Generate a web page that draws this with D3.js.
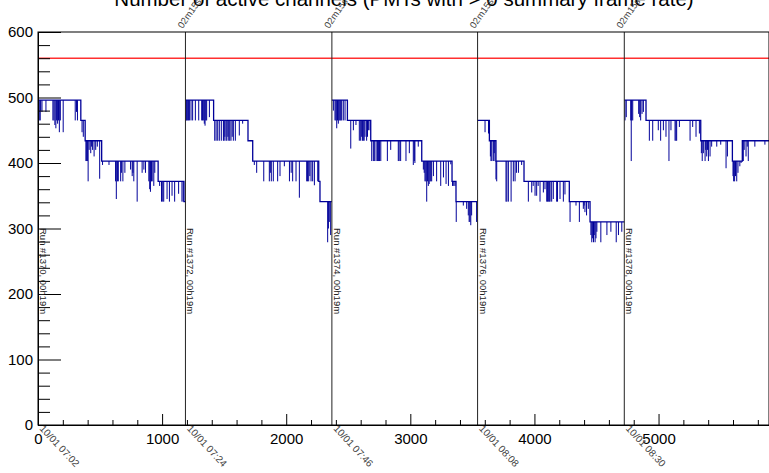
<!DOCTYPE html>
<html>
<head>
<meta charset="utf-8">
<script src="https://cdn.jsdelivr.net/npm/d3@7"></script>
<style>
  body { margin: 0; background: #fff; }
  svg { display: block; font-family: "Liberation Sans", Arial, sans-serif; }
</style>
</head>
<body>
<svg id="mainSvg" width="769" height="473"></svg>
<script>
// run info
let runStarts = [0, 1188, 2368, 3542, 4724];
let runNumbers = [1370, 1372, 1374, 1376, 1378];
let runDurations = ["00h19m", "00h19m", "00h19m", "00h19m", "00h19m"];
let runDates = ["10/01 07:02", "10/01 07:24", "10/01 07:46", "10/01 08:08", "10/01 08:30"];
let gapLabels = ["02m15s", "02m15s", "02m15s", "02m15s"];
let xTicks = [0, 1000, 2000, 3000, 4000, 5000];
let yTicks = [0, 100, 200, 300, 400, 500, 600];
let threshold = 560;

// step levels per run: [x, active channels]
let levels1370 = [[0,496],[345,465],[380,434],[513,403],[968,372],[1176,341],[1188,341]];
let levels1372 = [[1188,496],[1415,465],[1692,434],[1730,403],[2262,372],[2272,341],[2368,341]];
let levels1374 = [[2368,496],[2493,465],[2681,434],[3092,403],[3336,372],[3368,341],[3542,341]];
let levels1376 = [[3542,465],[3637,434],[3690,403],[3916,372],[4281,341],[4448,310],[4724,310]];
let levels1378 = [[4724,496],[4899,465],[5340,434],[5595,403],[5675,434],[5890,434]];

// short drops: [x, lowest value]
let dips1370 = [[10,465],[18,465],[22,480],[32,478],[64,478],[120,465],[128,465],[136,458],[144,453],[150,465],[158,460],[165,465],[172,447],[180,465],[203,447],[300,465],[310,478],[318,465],
  [355,447],[365,440],
  [386,403],[392,403],[398,403],[404,372],[412,420],[425,415],[432,425],[440,420],[452,410],[465,420],[478,425],[497,376],
  [520,397],[572,397],[625,372],[631,345],[640,372],[647,372],[666,372],[672,385],[684,372],[700,385],[746,390],[759,380],[765,385],[772,372],[799,341],[839,385],[853,390],[866,385],[893,372],[900,360],[906,356],[915,372],[920,372],[933,365],[941,385],
  [980,365],[995,341],[1005,341],[1013,341],[1040,345],[1059,341],[1080,350],[1101,341],[1133,353],[1160,341],[1170,341]];
let dips1372 = [[1193,465],[1198,465],[1206,465],[1212,465],[1220,465],[1233,465],[1246,465],[1268,465],[1295,465],[1319,465],[1326,465],[1332,465],[1340,460],[1346,457],[1352,465],[1359,465],[1381,470],
  [1424,434],[1435,434],[1448,434],[1461,434],[1477,434],[1494,434],[1500,434],[1506,440],[1515,434],[1522,434],[1530,440],[1537,434],[1545,434],[1555,434],[1565,440],[1574,434],[1590,434],[1622,442],[1649,460],
  [1743,397],[1762,385],[1819,372],[1864,372],[1872,385],[1880,372],[1896,372],[1931,372],[1950,380],[1985,395],[2026,372],[2040,385],[2052,372],[2079,372],[2106,347],[2165,372],[2172,372],[2181,372],[2190,380],[2200,372],[2213,372],[2227,366],[2254,372],
  [2334,279],[2340,300],[2347,310],[2358,290]];
let dips1374 = [[2380,480],[2393,465],[2400,465],[2407,453],[2413,465],[2420,460],[2427,465],[2434,465],[2440,465],[2447,465],[2460,465],[2474,465],
  [2520,422],[2541,450],[2562,458],[2589,434],[2600,434],[2608,440],[2614,434],[2621,434],[2628,434],[2635,440],[2648,434],[2655,440],[2662,450],[2675,450],
  [2689,403],[2702,403],[2710,403],[2724,403],[2735,403],[2743,403],[2752,403],[2762,403],[2815,403],[2842,420],[2903,403],[2910,403],[2922,403],[2965,403],[2992,415],[3024,397],[3032,403],[3037,400],[3064,425],
  [3105,390],[3112,385],[3118,372],[3125,372],[3132,341],[3138,372],[3145,365],[3152,368],[3159,372],[3165,372],[3172,372],[3186,380],[3212,372],[3245,365],[3267,378],[3288,368],[3307,365],[3326,398],
  [3340,365],[3350,365],[3360,365],
  [3370,310],[3427,335],[3454,330],[3467,320],[3474,310],[3480,310],[3487,305],[3494,320],[3534,310]];
let dips1376 = [[3602,447],[3630,445],
  [3645,410],[3650,403],[3657,403],[3669,403],[3676,415],[3682,403],[3690,375],
  [3696,372],[3771,341],[3778,341],[3790,341],[3812,341],[3830,372],[3844,372],[3855,385],[3871,385],[3897,397],
  [3951,341],[3978,355],[3990,365],[4005,350],[4018,350],[4030,365],[4045,341],[4072,355],[4085,360],[4099,341],[4106,341],[4112,341],[4120,341],[4126,341],[4139,341],[4152,345],[4179,341],[4186,341],[4206,345],[4233,341],[4246,352],
  [4287,310],[4335,335],[4362,310],[4394,330],[4400,335],[4407,325],[4420,320],[4434,330],
  [4455,290],[4462,279],[4469,285],[4476,279],[4482,290],[4489,279],[4496,285],[4503,295],[4535,279],[4584,290],[4616,295],[4659,279],[4677,290],[4704,295]];
let dips1378 = [[4730,465],[4740,470],[4776,465],[4780,403],[4784,465],[4792,465],[4840,475],[4848,470],[4856,465],[4867,475],[4878,478],
  [4926,434],[4953,434],[4998,450],[5017,434],[5039,450],[5060,440],[5084,403],[5100,450],[5133,434],[5140,434],[5146,434],[5168,455],[5254,434],[5275,455],[5302,440],[5329,445],
  [5345,415],[5352,403],[5361,415],[5375,403],[5380,420],[5388,410],[5395,420],[5402,403],[5415,410],[5428,425],[5469,425],[5501,428],[5544,392],[5555,410],
  [5600,380],[5605,372],[5613,372],[5620,380],[5630,372],[5640,385],[5655,395],[5665,400],
  [5683,403],[5690,420],[5705,410],[5715,425],[5723,403],[5776,425],[5857,428]];

let runLevels = [levels1370, levels1372, levels1374, levels1376, levels1378];
let runDips = [dips1370, dips1372, dips1374, dips1376, dips1378];

let svg = d3.select('#mainSvg');
let padLeft = 38, padRight = 769, padTop = 32, padBottom = 425;
let x = d3.scaleLinear().domain([0, 5890]).range([padLeft, padRight]);
let y = d3.scaleLinear().domain([0, 600]).range([padBottom, padTop]);
let blue = '#000099';

// title (cut at top like the original)
svg.append('text')
  .attr('x', 404).attr('y', 6)
  .attr('text-anchor', 'middle')
  .attr('font-size', 20.5)
  .text('Number of active channels (PMTs with > 0 summary frame rate)');

// threshold line
svg.append('line')
  .attr('x1', padLeft).attr('x2', padRight)
  .attr('y1', y(threshold)).attr('y2', y(threshold))
  .attr('stroke', '#ff3030').attr('stroke-width', 1.4);

function levelAt(levels, v){
  let lv = levels[0][1];
  levels.forEach(p => { if (p[0] <= v) lv = p[1]; });
  return lv;
}

let stepLine = d3.line().x(d => x(d[0])).y(d => y(d[1])).curve(d3.curveStepAfter);

runLevels.forEach((levels, i) => {
  let g = svg.append('g');
  g.selectAll('line')
    .data(runDips[i])
    .join('line')
    .attr('x1', d => x(d[0])).attr('x2', d => x(d[0]))
    .attr('y1', d => y(levelAt(levels, d[0])))
    .attr('y2', d => y(d[1]))
    .attr('stroke', blue).attr('stroke-width', 1);
  g.append('path')
    .attr('d', stepLine(levels))
    .attr('fill', 'none')
    .attr('stroke', blue).attr('stroke-width', 1.3);
});

// run separators
svg.selectAll('.runline')
  .data(runStarts.slice(1))
  .join('line')
  .attr('class', 'runline')
  .attr('x1', d => x(d)).attr('x2', d => x(d))
  .attr('y1', padTop).attr('y2', padBottom)
  .attr('stroke', '#222').attr('stroke-width', 1);

// frame
svg.append('rect')
  .attr('x', padLeft).attr('y', padTop)
  .attr('width', padRight - padLeft).attr('height', padBottom - padTop)
  .attr('fill', 'none').attr('stroke', '#000').attr('stroke-width', 1);

// y axis
let yAxis = svg.append('g').attr('transform', `translate(${padLeft},0)`)
  .call(d3.axisLeft(y).tickValues(yTicks).tickSize(-23).tickSizeOuter(0).tickPadding(5));
let yMinor = svg.append('g').attr('transform', `translate(${padLeft},0)`)
  .call(d3.axisLeft(y).tickValues(d3.range(0, 601, 20).filter(v => v % 100 != 0)).tickSize(-12).tickFormat(''));
yMinor.select('.domain').remove();
yAxis.selectAll('text').attr('font-size', 15).attr('fill', '#000').style('font-family', '"Liberation Sans", Arial, sans-serif');

// x axis
let xAxis = svg.append('g').attr('transform', `translate(0,${padBottom})`)
  .call(d3.axisBottom(x).tickValues(xTicks).tickSize(-11).tickSizeOuter(0).tickPadding(8).tickFormat(d3.format('d')));
let xMinor = svg.append('g').attr('transform', `translate(0,${padBottom})`)
  .call(d3.axisBottom(x).tickValues(d3.range(0, 5890, 200).filter(v => v % 1000 != 0)).tickSize(-5).tickFormat(''));
xMinor.select('.domain').remove();
xAxis.selectAll('text').attr('font-size', 15).attr('fill', '#000').style('font-family', '"Liberation Sans", Arial, sans-serif');
svg.selectAll('.tick line').attr('stroke', '#000');

// run labels
svg.selectAll('.runlabel')
  .data(runStarts)
  .join('text')
  .attr('class', 'runlabel')
  .attr('transform', d => `translate(${x(d) + 2},228) rotate(90)`)
  .attr('font-size', 9.5)
  .attr('fill', '#222')
  .text((d, i) => `Run #${runNumbers[i]}, ${runDurations[i]}`);

// date labels below axis
svg.selectAll('.datelabel')
  .data(runStarts)
  .join('text')
  .attr('class', 'datelabel')
  .attr('transform', d => `translate(${x(d) + 1},429) rotate(47)`)
  .attr('font-size', 10)
  .attr('fill', '#444')
  .text((d, i) => runDates[i]);

// gap labels above frame
svg.selectAll('.gaplabel')
  .data(runStarts.slice(1))
  .join('text')
  .attr('class', 'gaplabel')
  .attr('transform', d => `translate(${x(d) - 3},29) rotate(-55)`)
  .attr('font-size', 9.5)
  .attr('fill', '#444')
  .text((d, i) => gapLabels[i]);
</script>
</body>
</html>
